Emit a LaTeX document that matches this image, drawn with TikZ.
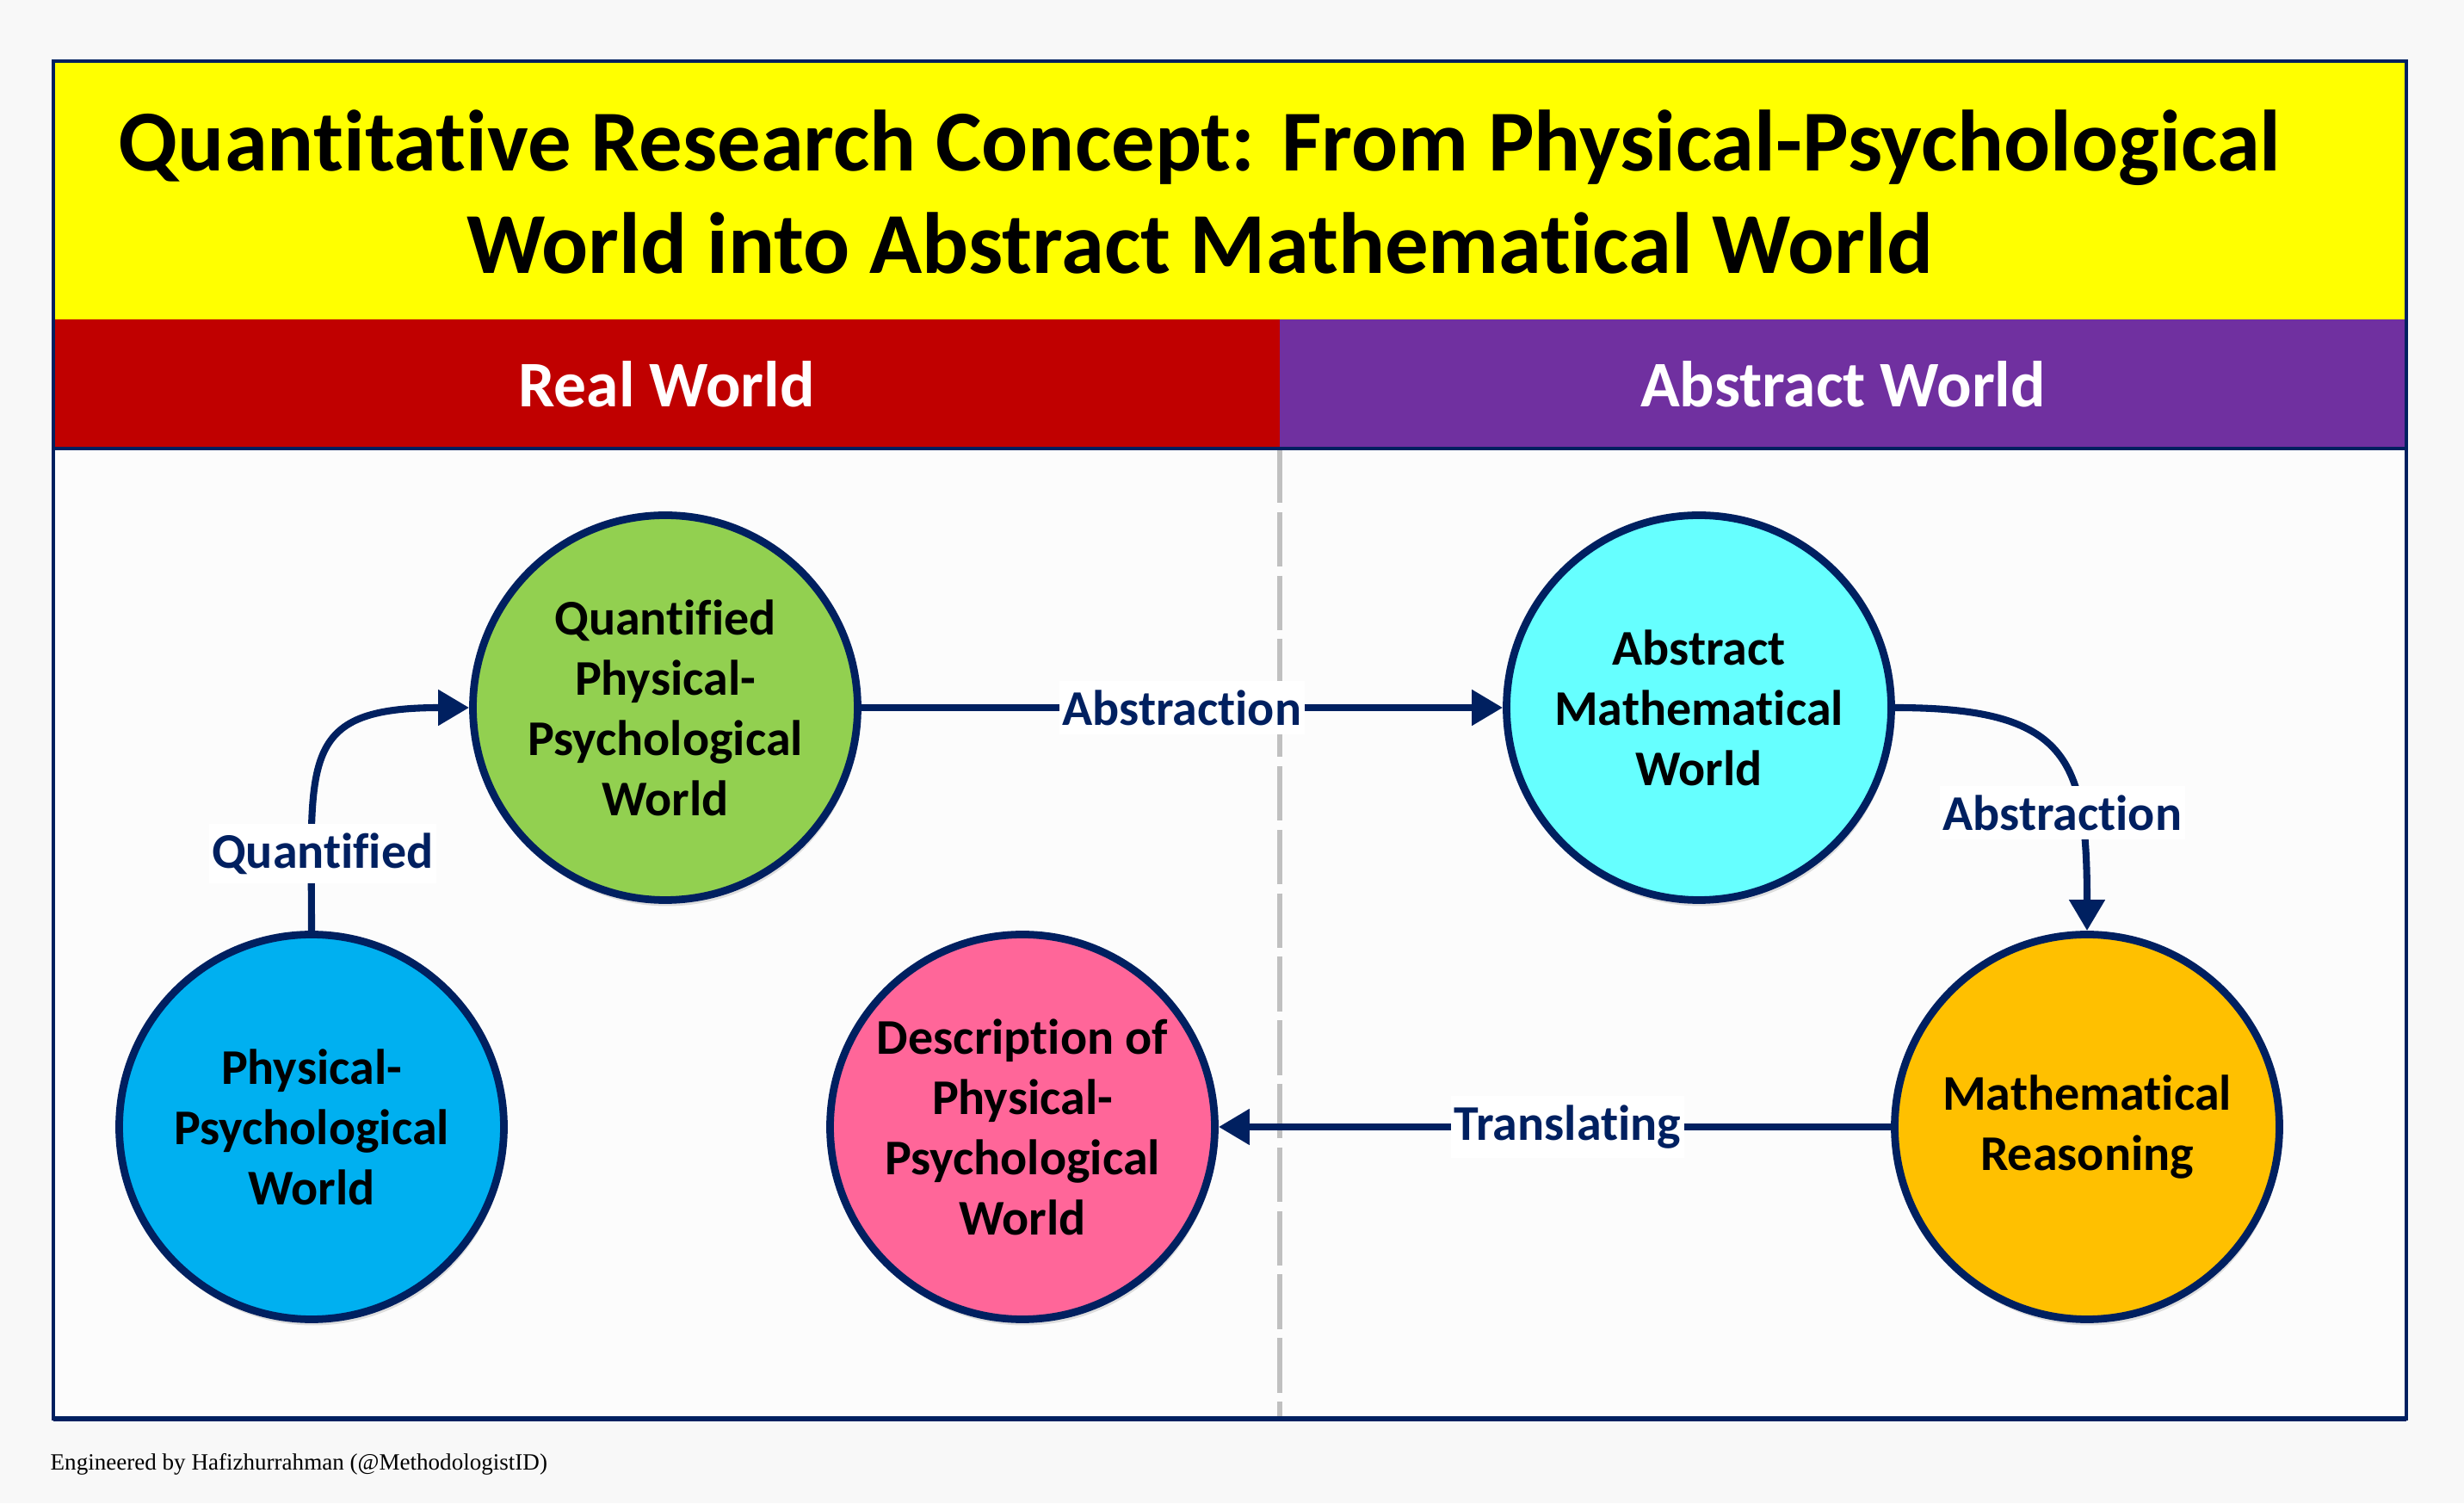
\documentclass[tikz,border=0pt]{standalone}
\usepackage{fontspec}
\setmainfont{Carlito}[Ligatures=NoCommon]
\newfontfamily\footfont{Liberation Serif}
\usetikzlibrary{arrows.meta, positioning, shadows}
\usepackage{xcolor}
\definecolor{meunavy}{RGB}{0, 32, 96}
\definecolor{meuamarelo}{RGB}{255, 255, 0}
\definecolor{meuvermelho}{RGB}{192, 0, 0}
\definecolor{meuroxo}{RGB}{112, 48, 160}
\definecolor{meufundo}{RGB}{248, 248, 248}
\definecolor{meupainel}{RGB}{252, 252, 252}
\definecolor{meucinza}{RGB}{192, 192, 192}
\definecolor{meuazulclaro}{RGB}{0, 176, 240}
\definecolor{meuverde}{RGB}{146, 208, 80}
\definecolor{meurosa}{RGB}{255, 102, 153}
\definecolor{meuciano}{RGB}{102, 255, 255}
\definecolor{meularanja}{RGB}{255, 192, 0}

\begin{document}
\begin{tikzpicture}[
    bubble/.style={
        circle,
        draw=meunavy,
        line width=2.5pt,
        minimum size=4.47cm,
        inner sep=0pt,
        align=center,
        font=\bfseries\fontsize{16.5pt}{19.9pt}\selectfont,
        drop shadow={shadow xshift=0.02cm, shadow yshift=-0.07cm, opacity=0.12, fill=black}
    },
    banner/.style={
        text=white,
        font=\bfseries\fontsize{21.5pt}{25pt}\selectfont,
        align=center
    },
    seta/.style={
        draw=meunavy,
        line width=2.3pt,
        -{Triangle[length=0.36cm, width=0.40cm]}
    },
    rotulo/.style={
        fill=white,
        text=meunavy,
        font=\bfseries\fontsize{16.5pt}{19.9pt}\selectfont,
        inner xsep=1pt,
        inner ysep=3pt
    }
]

\useasboundingbox (0,0) rectangle (28.63,17.46);
\fill[meufundo] (0,0) rectangle (28.63,17.46);

% ---------------- Frame and bands ----------------

\fill[meupainel] (0.62,0.98) rectangle (27.96,12.25);
\fill[meuamarelo] (0.62,13.75) rectangle (27.96,16.75);
\fill[meuvermelho] (0.62,12.25) rectangle (14.87,13.75);
\fill[meuroxo] (14.87,12.25) rectangle (27.96,13.75);

\draw[meucinza, line width=1.5pt, dash pattern=on 18pt off 3pt]
    (14.87,12.25) -- (14.87,0.98);

\draw[meunavy, line width=1.2pt] (0.62,12.25) -- (27.96,12.25);
\draw[meunavy, line width=1pt] (0.62,0.98) rectangle (27.96,16.75);
\draw[meunavy, line width=1.8pt] (0.62,0.98) -- (27.96,0.98);

\node[
    align=center,
    font=\bfseries\fontsize{28.7pt}{33.9pt}\selectfont
] (title) at (13.94,15.23)
{
    Quantitative Research Concept: From Physical-Psychological\\
    World into Abstract Mathematical World
};

\node[banner] (real) at (7.745,13.0) {Real World};
\node[banner] (abstract) at (21.415,13.0) {Abstract World};

% ---------------- Worlds ----------------

\node[bubble, fill=meuazulclaro] (physical) at (3.62,4.37)
{Physical-\\Psychological\\World};

\node[bubble, fill=meuverde] (quantified) at (7.73,9.24)
{Quantified\\Physical-\\Psychological\\World};

\node[bubble, fill=meuciano] (mathworld) at (19.74,9.24)
{Abstract\\Mathematical\\World};

\node[bubble, fill=meularanja] (reasoning) at (24.25,4.37)
{Mathematical\\Reasoning};

\node[bubble, fill=meurosa] (description) at (11.88,4.37)
{Description of\\Physical-\\Psychological\\World};

% ---------------- Connectors ----------------

\draw[seta] (physical.north) to[out=90, in=180, looseness=1.6]
    node[rotulo, pos=0.17, xshift=0.13cm] {Quantified} (quantified.west);

\draw[seta] (quantified.east) --
    node[rotulo, pos=0.5] {Abstraction} (mathworld.west);

\draw[seta] (mathworld.east) to[out=0, in=90, looseness=1.5]
    node[rotulo, pos=0.72, xshift=-0.2cm] {Abstraction} (reasoning.north);

\draw[seta] (reasoning.west) --
    node[rotulo, pos=0.5, xshift=0.15cm] {Translating} (description.east);

% ---------------- Credit ----------------

\node[
    anchor=base west,
    inner sep=0pt,
    font=\footfont\fontsize{7.7pt}{9pt}\selectfont
] (credit) at (0.58,0.38)
{Engineered by Hafizhurrahman (@MethodologistID)};

\end{tikzpicture}
\end{document}
